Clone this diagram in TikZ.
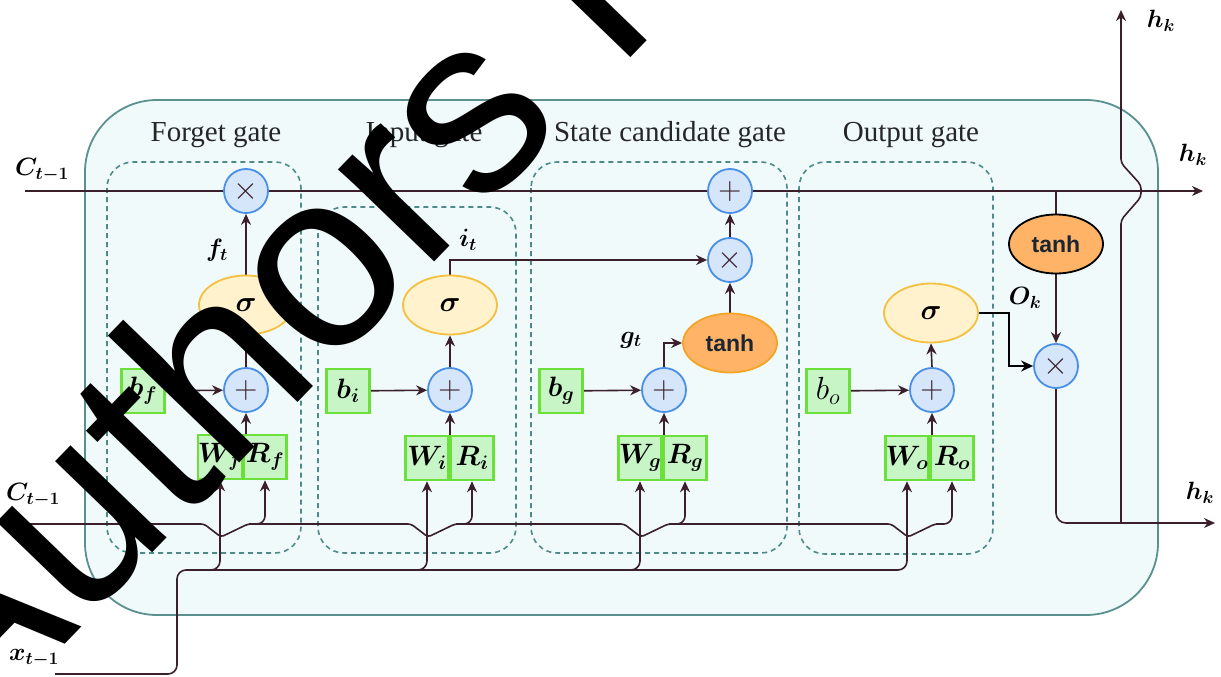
\RequirePackage{fix-cm}
\documentclass[tikz,border=0pt]{standalone}
\usepackage[no-math]{fontspec}
\setmainfont{Liberation Serif}
\setsansfont{Liberation Sans}
\newfontfamily\markfont{Liberation Sans}
\usepackage{bm}
\usetikzlibrary{arrows.meta,shapes.geometric,calc}

\definecolor{wirecol}{HTML}{3B1F2B}
\definecolor{cellfill}{HTML}{F0FAFB}
\definecolor{cellline}{HTML}{5A918E}
\definecolor{gatedash}{HTML}{4E8A8A}
\definecolor{opfill}{HTML}{D5E6FA}
\definecolor{opline}{HTML}{4A8FE6}
\definecolor{wfill}{HTML}{C8F5C6}
\definecolor{wline}{HTML}{6BE03A}
\definecolor{sigfill}{HTML}{FFF2CC}
\definecolor{sigline}{HTML}{F4C040}
\definecolor{tanhfill}{HTML}{FFB366}
\definecolor{tanhline}{HTML}{F2A526}
\definecolor{tanhtext}{HTML}{1C2633}

\pgfdeclarelayer{back}
\pgfdeclarelayer{wires}
\pgfdeclarelayer{front}
\pgfsetlayers{back,wires,main,front}

\tikzset{
  opnode/.style={circle, draw=opline, fill=opfill, line width=1.8pt, minimum size=44pt, inner sep=0pt,
    font=\fontsize{32}{32}\selectfont, text=wirecol},
  wbox/.style={rectangle, draw=wline, fill=wfill, line width=2.6pt, minimum width=43pt, minimum height=44pt,
    inner sep=0pt, font=\fontsize{28}{28}\selectfont},
  signode/.style={ellipse, draw=sigline, fill=sigfill, line width=1.8pt, minimum width=94pt, minimum height=59pt,
    inner sep=0pt, font=\fontsize{29}{29}\selectfont},
  tanhnode/.style={ellipse, draw=tanhline, fill=tanhfill, line width=1.8pt, minimum width=94pt, minimum height=59pt,
    inner sep=0pt, font=\sffamily\bfseries\fontsize{23}{23}\selectfont, text=tanhtext},
  wire/.style={draw=wirecol, line width=1.6pt},
  arr/.style={wire, -{Stealth[length=11pt,width=10pt]}},
  lbl/.style={font=\fontsize{25}{25}\selectfont, inner sep=0pt},
  gatebox/.style={draw=gatedash, line width=1.6pt, dash pattern=on 5pt off 4pt, rounded corners=26pt},
  gatetitle/.style={font=\fontsize{29}{29}\selectfont, text=black!85, inner sep=0pt},
}

\begin{document}
\begin{tikzpicture}[x=1pt,y=-1pt]
\useasboundingbox (0,0) rectangle (1221,677);

% cell body and gate frames
\begin{pgfonlayer}{back}
  \fill[white] (0,0) rectangle (1221,677);
  \draw[fill=cellfill, draw=cellline, line width=1.8pt, rounded corners=72pt] (85,100) rectangle (1158,615);
  \draw[gatebox] (107,162) rectangle (301,553);
  \draw[gatebox] (318,207) rectangle (516,553);
  \draw[gatebox] (531,162) rectangle (787,553);
  \draw[gatebox] (799,162) rectangle (993,554);
\end{pgfonlayer}

\node[gatetitle] (tf) at (216,135) {Forget gate};
\node[gatetitle] (ti) at (424,135) {Input gate};
\node[gatetitle] (ts) at (670,135) {State candidate gate};
\node[gatetitle] (to) at (911,135) {Output gate};

% forget gate
\node[opnode] (fx) at (246,191) {$\times$};
\node[signode] (fs) at (246,305) {$\bm\sigma$};
\node[opnode] (fp) at (246,390) {$+$};
\node[wbox] (bf) at (143,391) {$\bm{b_f}$};
\node[wbox] (Wf) at (220,457) {$\bm{W_f}$};
\node[wbox] (Rf) at (265,457) {$\bm{R_f}$};

% input gate
\node[signode] (is) at (450,305) {$\bm\sigma$};
\node[opnode] (ip) at (450,390) {$+$};
\node[wbox] (bi) at (348,391) {$\bm{b_i}$};
\node[wbox] (Wi) at (427,458) {$\bm{W_i}$};
\node[wbox] (Ri) at (472,458) {$\bm{R_i}$};

% state candidate gate
\node[opnode] (gpl) at (730,191) {$+$};
\node[opnode] (gx) at (730,260) {$\times$};
\node[tanhnode] (gt) at (730,343) {tanh};
\node[opnode] (gp) at (664,390) {$+$};
\node[wbox] (bg) at (561,391) {$\bm{b_g}$};
\node[wbox] (Wg) at (640,458) {$\bm{W_g}$};
\node[wbox] (Rg) at (685,458) {$\bm{R_g}$};

% output gate
\node[signode] (os) at (931,313) {$\bm\sigma$};
\node[opnode] (op) at (932,390) {$+$};
\node[wbox] (bo) at (828,391) {\fontsize{32}{32}\selectfont$b_o$};
\node[wbox] (Wo) at (907,458) {$\bm{W_o}$};
\node[wbox] (Ro) at (952,458) {$\bm{R_o}$};
\node[tanhnode, draw=black] (ot) at (1056,244) {tanh};
\node[opnode] (ox) at (1056,366) {$\times$};

% signal labels
\node[lbl] (lc1) at (42,170) {$\bm{C_{t-1}}$};
\node[lbl] (lc2) at (33,495) {$\bm{C_{t-1}}$};
\node[lbl] (lx) at (34,658) {$\bm{x_{t-1}}$};
\node[lbl] (lh1) at (1161,21) {$\bm{h_k}$};
\node[lbl] (lh2) at (1193,155) {$\bm{h_k}$};
\node[lbl] (lh3) at (1200,493) {$\bm{h_k}$};
\node[lbl] (lf) at (217,250) {$\bm{f_t}$};
\node[lbl] (li) at (468,240) {$\bm{i_t}$};
\node[lbl] (lg) at (631,340) {$\bm{g_t}$};
\node[lbl] (lo) at (1025,298) {$\bm{O_k}$};

\coordinate (cin) at (25,191);
\coordinate (cout) at (1203,191);
\coordinate (cin2) at (25,524);
\coordinate (xin) at (55,674);
\coordinate (xbend) at (177,674);
\coordinate (xl) at (177,570);
\coordinate (okc) at (1009,313);
\coordinate (hjoin) at (1121,523);
\coordinate (hup) at (1121,10);
\coordinate (hout) at (1215,523);

\begin{pgfonlayer}{wires}
  % cell state line
  \draw[arr] (cin) -- (cout);
  % forget gate
  \draw[arr] (bf) -- (fp);
  \draw[arr] (fp.south |- Wf.north) -- (fp.south);
  \draw[arr] (fp.north) -- (fs.south);
  \draw[arr] (fs.north) -- (fx.south);
  % input gate
  \draw[arr] (bi) -- (ip);
  \draw[arr] (ip.south |- Wi.north) -- (ip.south);
  \draw[arr] (ip.north) -- (is.south);
  \draw[arr] (is.north) |- (gx.west);
  % state candidate gate
  \draw[arr] (bg) -- (gp);
  \draw[arr] (gp.south |- Wg.north) -- (gp.south);
  \draw[arr] (gp.north) |- (gt.west);
  \draw[arr] (gt.north) -- (gx.south);
  \draw[arr] (gx.north) -- (gpl.south);
  % output gate
  \draw[arr] (bo) -- (op);
  \draw[arr] (op.south |- Wo.north) -- (op.south);
  \draw[arr] (op.north) -- (os.south);
  \draw[draw=black, line width=2.6pt, -{Stealth[length=12pt,width=11pt]}] (os.east) -- (okc) |- (ox.west);
  \draw[wire] (ot.north |- cin) -- (ot.north);
  \draw[arr] (ot.south) -- (ox.north);
  \draw[arr, rounded corners=10pt] (ox.south) |- (hout);
  \draw[arr, rounded corners=4pt] (hjoin) -- (1121,220) -- (1141,197) -- (1141,185) -- (1121,163) -- (hup);
  % previous cell state, hopping under the input wires
  \draw[wire, rounded corners=3pt] (cin2) -- (204,524) -- (221,537) -- (248,524)
     -- (411,524) -- (428,537) -- (455,524)
     -- (624,524) -- (641,537) -- (668,524)
     -- (891,524) -- (908,537) -- (935,524) -- (940,524);
  \draw[arr, rounded corners=8pt] ($(Rf.south |- cin2)+(-16,0)$) -| (Rf.south);
  \draw[arr, rounded corners=8pt] ($(Ri.south |- cin2)+(-16,0)$) -| (Ri.south);
  \draw[arr, rounded corners=8pt] ($(Rg.south |- cin2)+(-16,0)$) -| (Rg.south);
  \draw[arr, rounded corners=8pt] ($(Ro.south |- cin2)+(-16,0)$) -| (Ro.south);
  % input line
  \draw[arr, rounded corners=9pt] (xin) -- (xbend) -- (xl) -| (Wo.south);
  \draw[arr, rounded corners=9pt] ($(Wf.south |- xl)+(-16,0)$) -| (Wf.south);
  \draw[arr, rounded corners=9pt] ($(Wi.south |- xl)+(-16,0)$) -| (Wi.south);
  \draw[arr, rounded corners=9pt] ($(Wg.south |- xl)+(-16,0)$) -| (Wg.south);
\end{pgfonlayer}

% watermark lettering
\begin{pgfonlayer}{front}
  \clip (0,0) rectangle (1221,677);
  \node[rotate=46, anchor=base west, inner sep=0pt, text=black,
        font=\markfont\fontsize{252}{252}\selectfont] (mark) at (-35,748) {Authors P};
\end{pgfonlayer}
\end{tikzpicture}
\end{document}
